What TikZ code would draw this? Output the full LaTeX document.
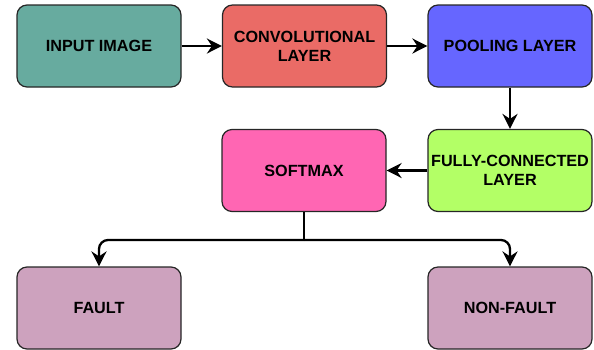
\documentclass[tikz,border=0pt]{standalone}
\usepackage{fontspec}
\setmainfont{Liberation Sans}
\usetikzlibrary{arrows.meta}
\definecolor{cInput}{HTML}{67AB9F}
\definecolor{cConv}{HTML}{EA6B66}
\definecolor{cPool}{HTML}{6666FF}
\definecolor{cFull}{HTML}{B3FF66}
\definecolor{cSoft}{HTML}{FF66B3}
\definecolor{cOut}{HTML}{CDA2BE}
\tikzset{
  layerbox/.style={draw=black!85, line width=1.2pt, rounded corners=10pt,
    minimum width=164pt, minimum height=82pt, inner sep=1pt, align=center,
    font=\fontsize{16.2}{19}\selectfont\bfseries},
  flow/.style={draw=black, line width=2.3pt,
    -{Stealth[length=15pt,width=15pt,inset=5pt]}}
}
\begin{document}
\begin{tikzpicture}[x=1pt,y=-1pt]
  \useasboundingbox (0,0) rectangle (594,349);
  \node[layerbox, fill=cInput] (input) at (99,46) {INPUT IMAGE};
  \node[layerbox, fill=cConv] (conv) at (304.5,46) {CONVOLUTIONAL\\LAYER};
  \node[layerbox, fill=cPool] (pool) at (510,46) {POOLING LAYER};
  % the long label runs slightly past the box edges
  \node[layerbox, fill=cFull] (full) at (510,170.5)
    {\makebox[150pt]{FULLY-CONNECTED}\\LAYER};
  \node[layerbox, fill=cSoft] (soft) at (304,170.5) {SOFTMAX};
  \node[layerbox, fill=cOut] (fault) at (99,308) {FAULT};
  \node[layerbox, fill=cOut] (nonfault) at (510,308) {NON-FAULT};
  \coordinate (fork) at (304,240);

  \draw[flow] (input) -- (conv);
  \draw[flow] (conv) -- (pool);
  \draw[flow] (pool) -- (full);
  \draw[flow] (full) -- (soft);
  \draw[draw=black, line width=2.3pt] (soft.south) -- (fork);
  \draw[flow, rounded corners=9pt] (fork) -| (fault.north);
  \draw[flow, rounded corners=9pt] (fork) -| (nonfault.north);
\end{tikzpicture}
\end{document}
